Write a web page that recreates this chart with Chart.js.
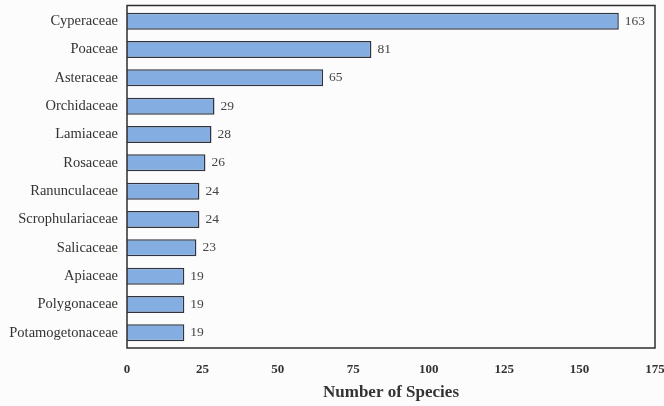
<!DOCTYPE html>
<html>
<head>
<meta charset="utf-8">
<script src="https://cdn.jsdelivr.net/npm/chart.js@4"></script>
<style>
  body { margin: 0; background: #fcfcfc; }
  #wrap { width: 664px; height: 406px; position: relative; }
</style>
</head>
<body>
<div id="wrap"><canvas id="famChart"></canvas></div>
<script>
var families = ['Cyperaceae', 'Poaceae', 'Asteraceae', 'Orchidaceae', 'Lamiaceae', 'Rosaceae',
    'Ranunculaceae', 'Scrophulariaceae', 'Salicaceae', 'Apiaceae', 'Polygonaceae', 'Potamogetonaceae'];
var species = [163, 81, 65, 29, 28, 26, 24, 24, 23, 19, 19, 19];
var xTicks = [0, 25, 50, 75, 100, 125, 150, 175];

// box around the plot + value labels at bar ends
var boxAndLabels = {
    id: 'boxAndLabels',
    afterDatasetsDraw: function(chart) {
        var ctx = chart.ctx;
        var a = chart.chartArea;
        ctx.save();
        ctx.strokeStyle = '#2e2e2e';
        ctx.lineWidth = 1.5;
        ctx.strokeRect(a.left, a.top - 1.5, a.right - a.left, a.bottom - a.top + 2.5);
        ctx.font = '13.5px "Liberation Serif"';
        ctx.fillStyle = '#444';
        ctx.textBaseline = 'middle';
        chart.getDatasetMeta(0).data.forEach(function(bar, i) {
            ctx.fillText(species[i], bar.x + 6, bar.y);
        });
        ctx.restore();
    }
};

function noPad(axis) {
    axis.paddingTop = 0;
    axis.paddingBottom = 0;
    axis.paddingLeft = 0;
    axis.paddingRight = 0;
}

var c = document.getElementById("famChart").getContext("2d");
var famChart = new Chart(c, {
    type: 'bar',
    data: {
        labels: families,
        datasets: [{
            label: 'Number of Species',
            data: species,
            backgroundColor: function(context) {
                var bar = context.element;
                if (!bar || bar.y === undefined) return '#84aee2';
                var g = context.chart.ctx.createLinearGradient(0, bar.y - 8, 0, bar.y + 8);
                g.addColorStop(0, '#7ea6d8');
                g.addColorStop(0.5, '#8ab4e8');
                g.addColorStop(1, '#a0c2ea');
                return g;
            },
            borderColor: '#2f3440',
            borderWidth: 1.5,
            barPercentage: 0.8,
            categoryPercentage: 0.75
        }]
    },
    options: {
        indexAxis: 'y',
        responsive: true,
        maintainAspectRatio: false,
        animation: false,
        layout: { padding: { left: 0, right: 9, top: 7, bottom: 0 } },
        plugins: {
            legend: { display: false },
            tooltip: { enabled: false }
        },
        scales: {
            x: {
                min: 0,
                max: 175,
                afterBuildTicks: function(axis) {
                    axis.ticks = xTicks.map(function(v) { return { value: v }; });
                },
                afterFit: function(axis) { axis.height = 59; noPad(axis); },
                grid: { display: false, drawTicks: false },
                border: { display: false },
                ticks: {
                    padding: 15,
                    color: '#333',
                    font: { family: 'Liberation Serif', size: 13, weight: 'bold' }
                },
                title: {
                    display: true,
                    text: 'Number of Species',
                    color: '#333',
                    padding: { top: 0, bottom: 3 },
                    font: { family: 'Liberation Serif', size: 17, weight: 'bold' }
                }
            },
            y: {
                afterFit: function(axis) { axis.width = 127; noPad(axis); },
                grid: { display: false, drawTicks: false },
                border: { display: false },
                ticks: {
                    padding: 9,
                    color: '#333',
                    font: { family: 'Liberation Serif', size: 14.5 }
                }
            }
        }
    },
    plugins: [boxAndLabels]
});
</script>
</body>
</html>
